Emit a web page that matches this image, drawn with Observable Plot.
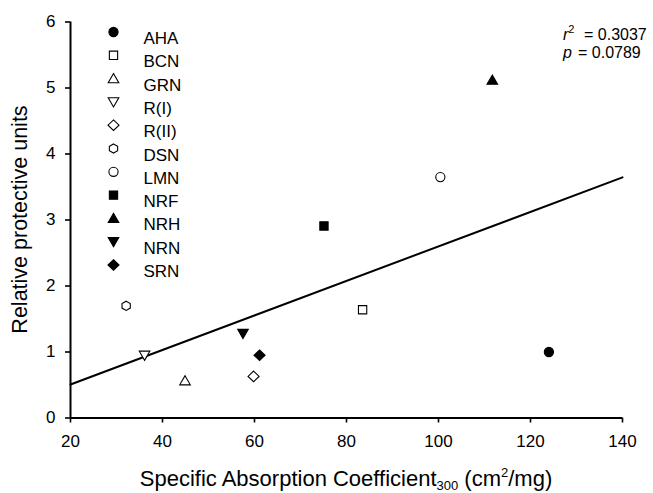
<!DOCTYPE html>
<html>
<head>
<meta charset="utf-8">
<script src="https://cdn.jsdelivr.net/npm/d3@7"></script>
<script src="https://cdn.jsdelivr.net/npm/@observablehq/plot@0.6"></script>
<style>
  html, body { margin: 0; padding: 0; background: #fff; }
  svg { display: block; }
</style>
</head>
<body>
<div id="chart"></div>
<script>
// ---- data ----
const names = ["AHA", "BCN", "GRN", "R(I)", "R(II)", "DSN", "LMN", "NRF", "NRH", "NRN", "SRN"];
const sac = [124.0, 83.5, 44.9, 36.1, 59.8, 32.1, 100.4, 75.1, 111.7, 57.5, 61.1];
const rpu = [1.00, 1.64, 0.565, 0.95, 0.63, 1.70, 3.65, 2.91, 5.12, 1.28, 0.95];
const xTicks = [20, 40, 60, 80, 100, 120, 140];
const yTicks = [0, 1, 2, 3, 4, 5, 6];
const r2Text = "0.3037";
const pText = "0.0789";

// ---- symbol styles ----
function poly(pts) {
  return {
    draw(ctx, size) {
      const r = Math.sqrt(size / Math.PI);
      ctx.moveTo(pts[0][0] * r, pts[0][1] * r);
      for (let i = 1; i < pts.length; i++) ctx.lineTo(pts[i][0] * r, pts[i][1] * r);
      ctx.closePath();
    }
  };
}
const circleSym = { draw(ctx, size) { const r = Math.sqrt(size / Math.PI); ctx.moveTo(r, 0); ctx.arc(0, 0, r, 0, 2 * Math.PI); } };
const squareSym = poly([[-0.9, -0.9], [0.9, -0.9], [0.9, 0.9], [-0.9, 0.9]]);
const triUp = poly([[0, -1.1], [1.15, 0.9], [-1.15, 0.9]]);
const triDown = poly([[0, 1.1], [1.15, -0.9], [-1.15, -0.9]]);
const diamondSym = poly([[0, -1.15], [1.2, 0], [0, 1.15], [-1.2, 0]]);
const hexSym = poly([[0, -1], [0.9, -0.5], [0.9, 0.5], [0, 1], [-0.9, 0.5], [-0.9, -0.5]]);
const style = {
  "AHA": [circleSym, true], "BCN": [squareSym, false], "GRN": [triUp, false],
  "R(I)": [triDown, false], "R(II)": [diamondSym, false], "DSN": [hexSym, false],
  "LMN": [circleSym, false], "NRF": [squareSym, true], "NRH": [triUp, true],
  "NRN": [triDown, true], "SRN": [diamondSym, true]
};

const data = names.map((n, i) => ({ name: n, x: sac[i], y: rpu[i] }));

// ---- regression (least squares) evaluated over the x-axis domain ----
const mx = d3.mean(sac), my = d3.mean(rpu);
const slope = d3.sum(sac, (v, i) => (v - mx) * (rpu[i] - my)) / d3.sum(sac, v => (v - mx) ** 2);
const intercept = my - slope * mx;
const xDom = d3.extent(xTicks);
const fit = xDom.map(x => ({ x, y: intercept + slope * x }));

const R = 4.6;
const dotMarks = data.map(d => Plot.dot([d], {
  x: "x", y: "y", r: R, symbol: style[d.name][0],
  fill: style[d.name][1] ? "black" : "white", stroke: "black", strokeWidth: 1.1
}));
const legendMarks = names.flatMap((n, i) => [
  Plot.dot([n], { frameAnchor: "top-left", dx: 43, dy: 10 + 23.3 * i, r: R, symbol: style[n][0],
    fill: style[n][1] ? "black" : "white", stroke: "black", strokeWidth: 1.1 }),
  Plot.text([n], { text: d => d, frameAnchor: "top-left", dx: 73, dy: 10 + 23.3 * i,
    textAnchor: "start", fontSize: 17, fill: "black" })
]);

const chart = Plot.plot({
  width: 653, height: 493,
  marginLeft: 70, marginRight: 31, marginTop: 21.5, marginBottom: 75.5,
  style: { fontFamily: "'Liberation Sans', Arial, sans-serif", fontSize: "17px", color: "black", background: "white" },
  x: { domain: xDom },
  y: { domain: d3.extent(yTicks) },
  marks: [
    Plot.axisX({ ticks: xTicks, tickFormat: d => String(d), tickSize: 5, tickPadding: 12, strokeWidth: 1.6, label: null, fontSize: 17 }),
    Plot.axisY({ ticks: yTicks, tickFormat: d => String(d), tickSize: 5, tickPadding: 10, strokeWidth: 1.6, label: null, fontSize: 17 }),
    Plot.ruleY([0], { strokeWidth: 2 }),
    Plot.ruleX([xDom[0]], { strokeWidth: 2 }),
    Plot.line(fit, { x: "x", y: "y", stroke: "black", strokeWidth: 2 }),
    ...dotMarks,
    ...legendMarks
  ]
});

document.getElementById("chart").appendChild(chart);

// ---- rich text (titles and statistics) ----
const svg = d3.select(chart);
const font = "'Liberation Sans', Arial, sans-serif";
const xt = svg.append("text").attr("x", 346).attr("y", 486).attr("text-anchor", "middle")
  .attr("font-family", font).attr("font-size", 22).attr("fill", "black");
xt.append("tspan").text("Specific Absorption Coefficient");
xt.append("tspan").attr("font-size", 13).attr("dy", 4).text("300");
xt.append("tspan").attr("dy", -4).text(" (cm");
xt.append("tspan").attr("font-size", 13).attr("dy", -9).text("2");
xt.append("tspan").attr("dy", 9).text("/mg)");

svg.append("text").attr("transform", "translate(27,219.5) rotate(-90)").attr("text-anchor", "middle")
  .attr("font-family", font).attr("font-size", 21.5).attr("fill", "black").text("Relative protective units");

const s1 = svg.append("text").attr("y", 39.5).attr("text-anchor", "start")
  .attr("font-family", font).attr("font-size", 16).attr("fill", "black");
s1.append("tspan").attr("x", 563).attr("font-style", "italic").text("r");
s1.append("tspan").attr("font-size", 11).attr("dy", -7).text("2");
s1.append("tspan").attr("x", 584).attr("dy", 7).text("= " + r2Text);
const s2 = svg.append("text").attr("y", 58).attr("text-anchor", "start")
  .attr("font-family", font).attr("font-size", 16).attr("fill", "black");
s2.append("tspan").attr("x", 563).attr("font-style", "italic").text("p");
s2.append("tspan").attr("x", 578).text("= " + pText);
</script>
</body>
</html>
